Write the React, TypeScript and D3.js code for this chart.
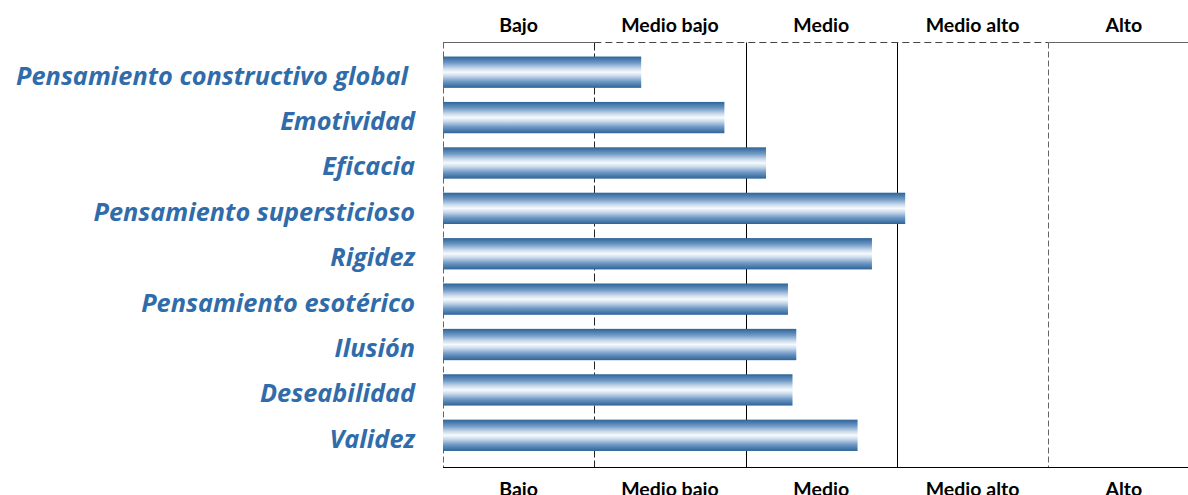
import React from "react";
import * as d3 from "d3";

const categories = [
  "Pensamiento constructivo global",
  "Emotividad",
  "Eficacia",
  "Pensamiento supersticioso",
  "Rigidez",
  "Pensamiento esotérico",
  "Ilusión",
  "Deseabilidad",
  "Validez",
];
const values = [26.2, 37.2, 42.7, 61.1, 56.7, 45.6, 46.7, 46.2, 54.8];
const levels = ["Bajo", "Medio bajo", "Medio", "Medio alto", "Alto"];
const levelBreaks = [0, 20, 40, 60, 80, 100];

const W = 1188;
const H = 495;

export default function App() {
  const x = d3.scaleLinear().domain([0, 100]).range([443, 1199.5]);
  const y = d3
    .scaleBand<string>()
    .domain(categories)
    .range([49.5, 458])
    .paddingInner(0.31)
    .paddingOuter(0.155);
  const top = 42.5;
  const bottom = 467.5;
  const catFont = "'Open Sans', sans-serif";
  const levelFont = "Lato, 'Open Sans', sans-serif";

  const gridStyle = (i: number) => {
    if (i === 0 || i === 4) return { stroke: "#666", dash: "6,3" };
    if (i === 1) return { stroke: "#222", dash: "8,3" };
    return { stroke: "#000", dash: undefined };
  };

  return (
    <svg
      width={W}
      height={H}
      style={{ position: "absolute", left: 0, top: 0, background: "#fff" }}
    >
      <defs>
        <linearGradient id="barGrad" x1="0" y1="0" x2="0" y2="1">
          <stop offset="0" stopColor="#2D6499" />
          <stop offset="0.2" stopColor="#6E98C4" />
          <stop offset="0.38" stopColor="#C9DAEC" />
          <stop offset="0.5" stopColor="#F7FAFD" />
          <stop offset="0.62" stopColor="#C9DAEC" />
          <stop offset="0.8" stopColor="#6E98C4" />
          <stop offset="1" stopColor="#2D6499" />
        </linearGradient>
      </defs>

      {/* vertical grid lines */}
      {levelBreaks.slice(0, 5).map((b, i) => {
        const s = gridStyle(i);
        const xx = Math.round(x(b)) + 0.5;
        return (
          <line
            key={"g" + i}
            x1={xx}
            x2={xx}
            y1={top}
            y2={bottom}
            stroke={s.stroke}
            strokeWidth={1}
            strokeDasharray={s.dash}
          />
        );
      })}

      {/* top border */}
      <line x1={x(0)} x2={x(20)} y1={top} y2={top} stroke="#666" strokeWidth={1.2} />
      <line
        x1={x(20)}
        x2={x(80)}
        y1={top}
        y2={top}
        stroke="#444"
        strokeWidth={1.2}
        strokeDasharray="7,4"
      />
      <line x1={x(80)} x2={W} y1={top} y2={top} stroke="#666" strokeWidth={1.2} />
      {/* bottom border */}
      <line x1={x(0)} x2={W} y1={bottom} y2={bottom} stroke="#000" strokeWidth={1.2} />

      {/* bars */}
      {categories.map((c, i) => (
        <rect
          key={c}
          x={x(0)}
          y={y(c)}
          width={x(values[i]) - x(0)}
          height={y.bandwidth()}
          fill="url(#barGrad)"
        />
      ))}

      {/* category labels */}
      {categories.map((c) => (
        <text
          key={"l" + c}
          x={c === "Pensamiento constructivo global" ? 408 : 415}
          y={(y(c) as number) + y.bandwidth() / 2 + 2.5}
          textAnchor="end"
          dominantBaseline="central"
          fontFamily={catFont}
          fontStyle="italic"
          fontWeight="bold"
          fontSize={25.3}
          fill="#306CAA"
        >
          {c}
        </text>
      ))}

      {/* level labels top and bottom */}
      {levels.map((l, i) => {
        const cx = (x(levelBreaks[i]) + x(levelBreaks[i + 1])) / 2;
        return (
          <g key={"lv" + l}>
            <text
              x={cx}
              y={32}
              textAnchor="middle"
              fontFamily={levelFont}
              fontWeight="bold"
              fontSize={19.5}
              fill="#000"
            >
              {l}
            </text>
            <text
              x={cx}
              y={496}
              textAnchor="middle"
              fontFamily={levelFont}
              fontWeight="bold"
              fontSize={19.5}
              fill="#000"
            >
              {l}
            </text>
          </g>
        );
      })}
    </svg>
  );
}
